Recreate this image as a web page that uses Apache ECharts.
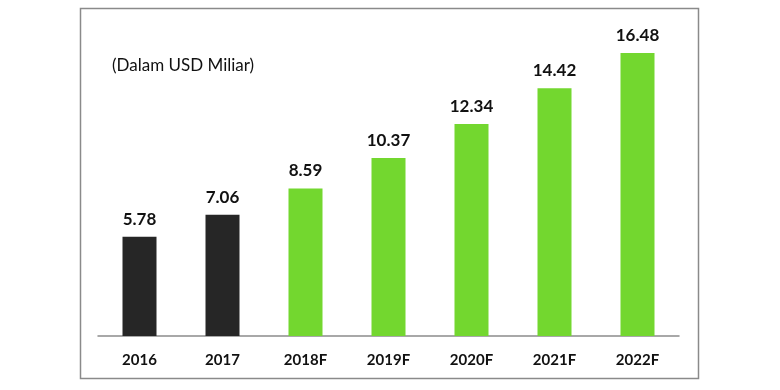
<!DOCTYPE html>
<html>
<head>
<meta charset="utf-8">
<script src="https://cdn.jsdelivr.net/npm/echarts@6/dist/echarts.min.js"></script>
<style>
html,body{margin:0;padding:0;background:#fff;}
#c{width:780px;height:390px;}
</style>
</head>
<body>
<div id="c"></div>
<script>
const categories = ['2016', '2017', '2018F', '2019F', '2020F', '2021F', '2022F'];
const values = [5.78, 7.06, 8.59, 10.37, 12.34, 14.42, 16.48];
const unitNote = '(Dalam USD Miliar)';

const DARK = '#262626';
const GREEN = '#73D72F';

const chart = echarts.init(document.getElementById('c'), null, {renderer: 'canvas'});
chart.setOption({
  animation: false,
  backgroundColor: '#ffffff',
  graphic: [
    {type: 'rect', shape: {x: 80.5, y: 8.5, width: 618, height: 370},
     style: {fill: 'none', stroke: '#8a8a8a', lineWidth: 1.5}, z: 0},
    {type: 'text', left: 112, top: 57,
     style: {text: unitNote, font: '17px Lato, "Open Sans", sans-serif', fill: '#111'}}
  ],
  grid: {left: 98, right: 101, top: 44, bottom: 54},
  xAxis: {
    type: 'category',
    data: categories,
    axisLine: {show: true, lineStyle: {color: '#8c8c8c', width: 1.5}},
    axisTick: {show: false},
    axisLabel: {margin: 17, color: '#111', fontWeight: 'bold', fontSize: 15, fontFamily: 'Lato, "Open Sans", sans-serif'}
  },
  yAxis: {
    type: 'value', min: 0, max: 17,
    show: false,
    splitLine: {show: false}
  },
  series: [{
    type: 'bar',
    data: values,
    barWidth: 34,
    itemStyle: {
      color: p => categories[p.dataIndex].endsWith('F') ? GREEN : DARK
    },
    label: {
      show: true, position: 'top', distance: 9,
      color: '#111', fontWeight: 'bold', fontSize: 17,
      fontFamily: 'Lato, "Open Sans", sans-serif',
      formatter: p => p.value.toFixed(2)
    }
  }]
});
</script>
</body>
</html>
